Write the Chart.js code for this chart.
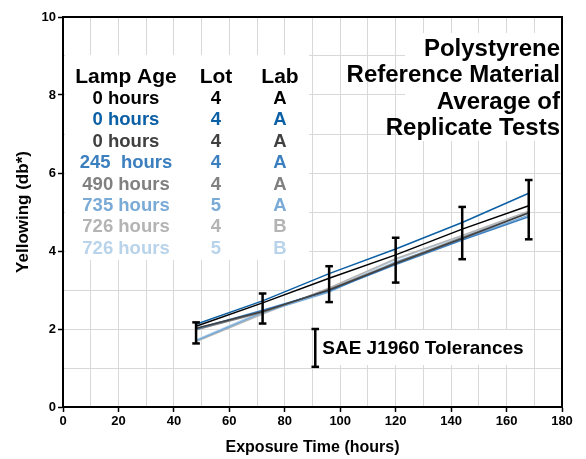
<!DOCTYPE html>
<html>
<head>
<meta charset="utf-8">
<script src="https://cdn.jsdelivr.net/npm/chart.js@4.4.0/dist/chart.umd.min.js"></script>
<style>
  html, body { margin: 0; padding: 0; background: #fff; }
  #wrap { width: 586px; height: 459px; }
</style>
</head>
<body>
<div id="wrap"><canvas id="c" width="586" height="459"></canvas></div>
<script>
// ---- data ----
const exposureHours = [48, 72, 96, 120, 144, 168];

const seriesLampAge = ['0 hours', '0 hours', '0 hours', '245  hours', '490 hours', '735 hours', '726 hours', '726 hours'];
const seriesLot = ['4', '4', '4', '4', '4', '5', '4', '5'];
const seriesLab = ['A', 'A', 'A', 'A', 'A', 'A', 'B', 'B'];
const seriesColors = ['#000000', '#0b5fa5', '#404040', '#3b7fbf', '#808080', '#7aaad6', '#b4b4b4', '#b9d4ea'];

const yBlack0    = [2.07, 2.67, 3.30, 3.90, 4.56, 5.16];
const yBlue0     = [2.12, 2.72, 3.42, 4.05, 4.73, 5.48];
const yGray0     = [2.02, 2.45, 3.00, 3.68, 4.32, 4.98];
const yBlue245   = [2.00, 2.48, 2.98, 3.65, 4.28, 4.88];
const yGray490   = [1.98, 2.43, 3.02, 3.70, 4.35, 4.97];
const yBlue735   = [1.70, 2.42, 2.95, 3.72, 4.30, 4.92];
const yGray726   = [1.68, 2.38, 3.05, 3.80, 4.40, 5.02];
const yPale726   = [1.72, 2.45, 3.00, 3.78, 4.38, 5.00];
const seriesValues = [yBlack0, yBlue0, yGray0, yBlue245, yGray490, yBlue735, yGray726, yPale726];

const errLow  = [1.63, 2.14, 2.69, 3.19, 3.79, 4.30];
const errHigh = [2.17, 2.91, 3.61, 4.34, 5.13, 5.82];

const tolX = 91;
const tolLow = 1.03;
const tolHigh = 2.00;
const tolLabel = 'SAE J1960 Tolerances';

const titleLines = ['Polystyrene', 'Reference Material', 'Average of', 'Replicate Tests'];
const tableHeaders = ['Lamp Age', 'Lot', 'Lab'];

const xTitle = 'Exposure Time (hours)';
const yTitle = 'Yellowing (db*)';

// ---- build datasets ----
const FONT = "'Liberation Sans', Arial, Helvetica, sans-serif";
const datasets = [];

const errData = [];
exposureHours.forEach((h, i) => {
  errData.push({x: h, y: errLow[i]}, {x: h, y: errHigh[i]}, {x: h, y: null});
});
errData.push({x: tolX, y: tolLow}, {x: tolX, y: tolHigh});
datasets.push({
  label: 'err', data: errData, borderColor: '#000', backgroundColor: '#000',
  borderWidth: 2.5, pointStyle: 'line', pointRadius: 3.8, pointBorderWidth: 2.5,
  pointBorderColor: '#000', spanGaps: false, order: -1, tension: 0
});

seriesValues.forEach((vals, s) => {
  datasets.push({
    label: seriesLampAge[s],
    data: exposureHours.map((h, i) => ({x: h, y: vals[i]})),
    borderColor: seriesColors[s], backgroundColor: seriesColors[s],
    borderWidth: 1.5, pointRadius: 0, tension: 0, order: s
  });
});

const boxesPlugin = {
  id: 'boxes',
  beforeDatasetsDraw(chart) {
    const ctx = chart.ctx;
    ctx.save();
    ctx.fillStyle = '#fff';
    ctx.fillRect(65, 55, 244, 205);   // table box
    ctx.fillRect(405, 33, 156, 108);  // title box
    ctx.fillRect(320, 330, 210, 35);  // tolerance label box
    ctx.restore();
  },
  afterDraw(chart) {
    const ctx = chart.ctx;
    const a = chart.chartArea;
    ctx.save();
    ctx.strokeStyle = '#000';
    ctx.lineWidth = 2;
    ctx.strokeRect(a.left, a.top, a.right - a.left, a.bottom - a.top);

    // title
    ctx.fillStyle = '#000';
    ctx.textAlign = 'right';
    ctx.textBaseline = 'middle';
    ctx.font = 'bold 24px ' + FONT;
    titleLines.forEach((t, i) => ctx.fillText(t, 560, 49 + i * 26.5));

    // table
    const colX = [126, 216, 280];
    ctx.textAlign = 'center';
    ctx.font = 'bold 21px ' + FONT;
    tableHeaders.forEach((t, i) => ctx.fillText(t, colX[i], 77));
    ctx.font = 'bold 18.5px ' + FONT;
    seriesLampAge.forEach((t, r) => {
      const y = 99 + r * 21.4;
      ctx.fillStyle = seriesColors[r];
      ctx.fillText(t, colX[0], y);
      ctx.fillText(seriesLot[r], colX[1], y);
      ctx.fillText(seriesLab[r], colX[2], y);
    });

    // tolerance label
    const xs = chart.scales.x, ys = chart.scales.y;
    ctx.fillStyle = '#000';
    ctx.textAlign = 'left';
    ctx.font = 'bold 19px ' + FONT;
    ctx.fillText(tolLabel, xs.getPixelForValue(tolX) + 7, ys.getPixelForValue((tolLow + tolHigh) / 2) + 1);
    ctx.restore();
  }
};

new Chart(document.getElementById('c'), {
  type: 'line',
  data: { datasets },
  options: {
    responsive: false,
    animation: false,
    devicePixelRatio: 1,
    layout: { padding: { left: 0, top: 17, right: 24, bottom: 2 } },
    plugins: { legend: { display: false }, tooltip: { enabled: false } },
    scales: {
      x: {
        type: 'linear', min: 0, max: 180,
        afterFit(scale) { scale.height = 50; },
        ticks: {
          stepSize: 10, autoSkip: false, maxRotation: 0, padding: 2,
          color: '#000', font: { family: FONT, size: 13, weight: 'bold' },
          callback: v => (v % 20 === 0 ? String(v) : '')
        },
        grid: {
          color: '#d8d8d8', lineWidth: 1, tickLength: 5,
          tickColor: c => (c.tick && c.tick.value % 20 === 0 ? '#000' : 'rgba(0,0,0,0)'),
          tickWidth: 1.5
        },
        border: { color: '#000', width: 2 },
        title: { display: true, text: xTitle, color: '#000', padding: { top: 0, bottom: 0 },
                 font: { family: FONT, size: 16, weight: 'bold' } }
      },
      y: {
        type: 'linear', min: 0, max: 10,
        afterFit(scale) { scale.width = 63; },
        ticks: {
          stepSize: 1, autoSkip: false, padding: 2,
          color: '#000', font: { family: FONT, size: 13, weight: 'bold' },
          callback: v => (v % 2 === 0 ? String(v) : '')
        },
        grid: {
          color: '#d8d8d8', lineWidth: 1, tickLength: 5,
          tickColor: c => (c.tick && c.tick.value % 2 === 0 ? '#000' : 'rgba(0,0,0,0)'),
          tickWidth: 1.5
        },
        border: { color: '#000', width: 2 },
        title: { display: true, text: yTitle, color: '#000', padding: { top: 13, bottom: 0 },
                 font: { family: FONT, size: 17, weight: 'bold' } }
      }
    }
  },
  plugins: [boxesPlugin]
});
</script>
</body>
</html>
